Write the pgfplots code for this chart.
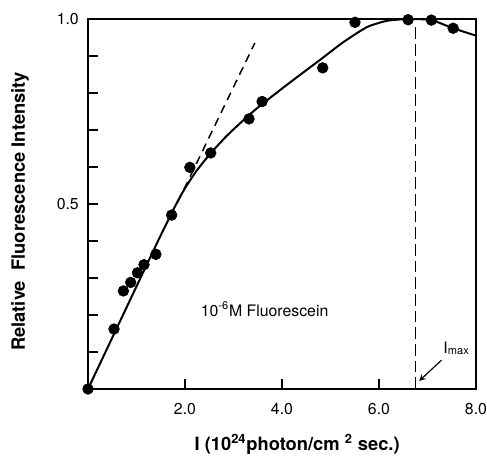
\documentclass[border=0pt]{standalone}
\usepackage{pgfplots}
\pgfplotsset{compat=1.18}
\usepackage{fontspec}
\setmainfont{TeX Gyre Heros}

\begin{document}
\begin{tikzpicture}
\useasboundingbox (-52.8pt,-41.4pt) rectangle (239.4pt,233.4pt);
\begin{axis}[
    at={(0,0)}, anchor=south west,
    scale only axis, width=232.8pt, height=222pt,
    xmin=0, xmax=8, ymin=0, ymax=1,
    xtick={2,4,6,8}, xticklabels={2.0,4.0,6.0,8.0},
    ytick={0.5,1.0}, yticklabels={0.5,1.0},
    minor ytick={0.1,0.2,0.3,0.4,0.6,0.7,0.8,0.9},
    xtick pos=bottom, ytick pos=left, tick align=inside,
    major tick length=6pt, minor tick length=6pt,
    every tick/.style={black, line width=0.8pt},
    axis line style={line width=0.9pt},
    tick label style={font=\fontsize{9.5}{11}\selectfont},
    xticklabel style={yshift=-5pt},
    yticklabel style={xshift=-2pt},
    /pgf/number format/assume math mode=true,
    xlabel={I (10\textsuperscript{24}photon/cm \textsuperscript{2} sec.)},
    ylabel={Relative\ \ Fluorescence Intensity},
    label style={font=\bfseries\fontsize{11}{13}\selectfont},
    xlabel style={at={(axis description cs:0.539,-0.149)}, anchor=center},
    ylabel style={at={(axis description cs:-0.175,0.48)}, anchor=center},
    clip=false,
]
% fitted curve
\addplot[black, line width=1.2pt, smooth, tension=0.35] coordinates {
    (0,0) (1.4,0.388) (1.6,0.442) (1.75,0.482) (1.9,0.52) (2.05,0.553)
    (2.24,0.59) (2.515,0.635) (2.86,0.684) (3.3,0.738) (3.6,0.771)
    (4.23,0.835) (4.78,0.889) (5.26,0.937) (5.75,0.978)
    (6.16,0.995) (6.6,1.0) (7.08,0.997) (7.53,0.975) (8.0,0.955)
};
% initial slope
\addplot[black, line width=0.9pt, dash pattern=on 5pt off 3.5pt] coordinates {
    (1.85,0.505) (3.44,0.935)
};
% I_max
\addplot[black, line width=0.9pt, dash pattern=on 7pt off 3pt] coordinates {
    (6.755,0) (6.755,0.99)
};
% measured points
\addplot[black, only marks, mark=*, mark size=3.2pt] coordinates {
    (0,0) (0.536,0.162) (0.73,0.265) (0.88,0.288) (1.02,0.314)
    (1.155,0.336) (1.40,0.364) (1.725,0.470) (2.10,0.599) (2.53,0.638)
    (3.32,0.730) (3.59,0.777) (4.84,0.868) (5.505,0.991) (6.60,0.998)
    (7.08,0.997) (7.53,0.975)
};
\node[font=\fontsize{9.5}{11}\selectfont] at (axis cs:3.64,0.216) {10\textsuperscript{-6}M Fluorescein};
\node[font=\fontsize{9.5}{11}\selectfont] at (axis cs:7.6,0.11) {I\textsubscript{max}};
\draw[-stealth, line width=0.7pt] (axis cs:7.29,0.078) -- (axis cs:6.83,0.022);
\end{axis}
\end{tikzpicture}
\end{document}
